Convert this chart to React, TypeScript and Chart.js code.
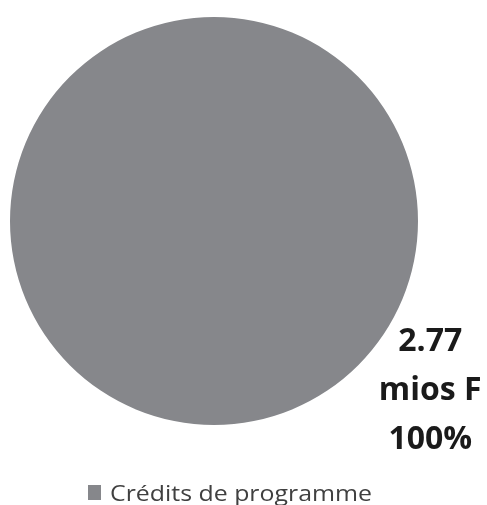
import React, { useEffect, useRef } from "react";
import { Chart, registerables } from "chart.js";

Chart.register(...registerables);

const categories = ["Crédits de programme"];
const values = [2.77];
const valueLabels = ["2.77", "mios F", "100%"];
const colors = ["#86878b"];

const FONT = "'Open Sans', sans-serif";

const labelPlugin = {
  id: "customLabels",
  afterDraw(chart: any) {
    const ctx = chart.ctx;
    const meta = chart.getDatasetMeta(0);
    const arc = meta.data[0] as any;
    if (!arc) return;
    const cx = arc.x;
    const cy = arc.y;
    const r = arc.outerRadius;
    ctx.save();
    ctx.fillStyle = "#1a1a1a";
    ctx.font = `bold 32px ${FONT}`;
    ctx.textAlign = "center";
    ctx.textBaseline = "alphabetic";
    const lx = cx + r * 1.06;
    const ly = cy + r * 0.635;
    valueLabels.forEach((t, i) => {
      ctx.fillText(t, lx, ly + i * 49);
    });
    // legend
    const legY = chart.height - 4;
    ctx.fillStyle = colors[0];
    ctx.fillRect(88, legY - 16, 13, 15);
    ctx.fillStyle = "#404040";
    ctx.font = `22px ${FONT}`;
    ctx.textAlign = "left";
    const w = ctx.measureText(categories[0]).width;
    const sx = 262 / w;
    ctx.translate(110, legY);
    ctx.scale(sx, 1);
    ctx.fillText(categories[0], 0, 0);
    ctx.restore();
  },
};

export default function App() {
  const ref = useRef<HTMLCanvasElement>(null);
  useEffect(() => {
    if (!ref.current) return;
    const chart = new Chart(ref.current, {
      type: "pie",
      data: {
        labels: categories,
        datasets: [
          {
            data: values,
            backgroundColor: colors,
            borderWidth: 0,
          },
        ],
      },
      options: {
        animation: false,
        responsive: false,
        layout: { padding: { left: 10, right: 69, top: 17, bottom: 80 } },
        plugins: {
          legend: { display: false },
          tooltip: { enabled: false },
        },
      },
      plugins: [labelPlugin],
    });
    return () => chart.destroy();
  }, []);
  return (
    <div style={{ position: "fixed", left: 0, top: 0, width: 487, height: 505, background: "#fff" }}>
      <canvas ref={ref} width={487} height={505} />
    </div>
  );
}
